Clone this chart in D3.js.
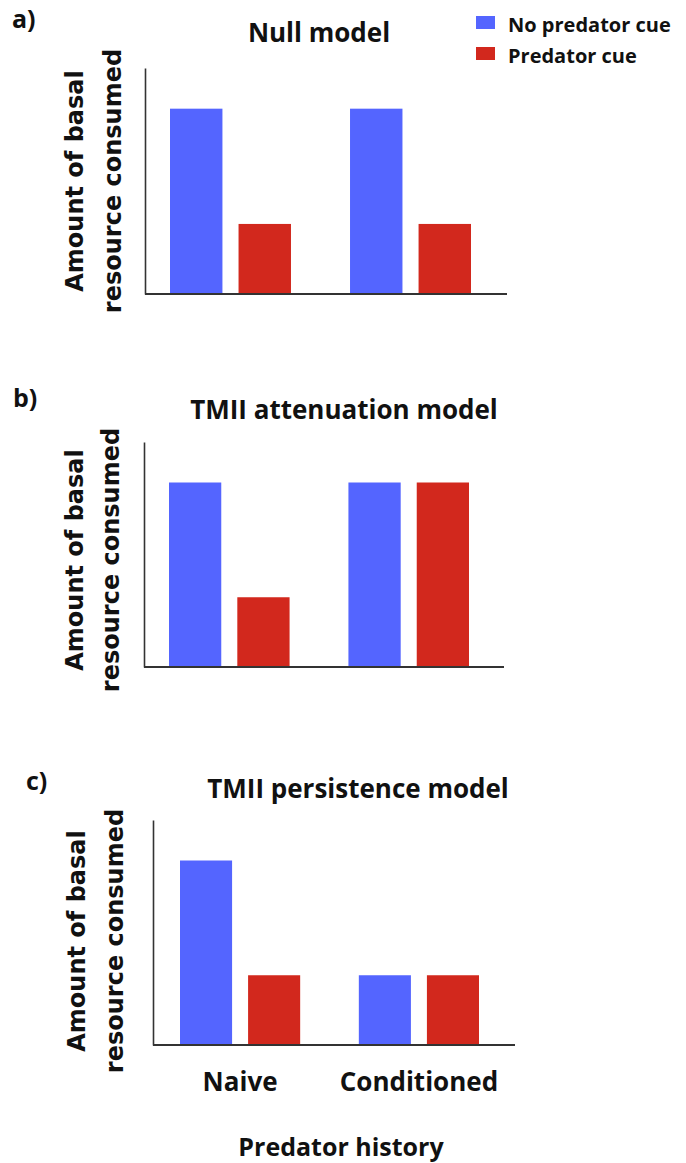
<!DOCTYPE html>
<html>
<head>
<meta charset="utf-8">
<script src="https://cdn.jsdelivr.net/npm/d3@7"></script>
<style>
  body { margin: 0; background: #fff; }
  text { font-family: "Open Sans", sans-serif; font-weight: bold; fill: #111; }
  .ylab { font-family: "DejaVu Sans", sans-serif; }
</style>
</head>
<body>
<div id="chart"></div>
<script>
var svgWidth = 686;
var svgHeight = 1163;

// data
var categories = ["Naive", "Conditioned"];
var seriesNames = ["No predator cue", "Predator cue"];
var seriesColors = ["#5465ff", "#d2281d"];
var panelTitles = ["Null model", "TMII attenuation model", "TMII persistence model"];
var panelLetters = ["a)", "b)", "c)"];
// values per category: [no cue, cue]
var nullValues = [[0.82, 0.31], [0.82, 0.31]];
var attenuationValues = [[0.82, 0.31], [0.82, 0.82]];
var persistenceValues = [[0.82, 0.31], [0.31, 0.31]];

var panelValues = [nullValues, attenuationValues, persistenceValues];

// layout of each panel (plot box, bar offsets, text spots)
var layouts = [
  { left: 145, right: 507, top: 68, bottom: 294, padL: 25, padR: 36,
    titleX: 319, titleY: 42, letterX: 12, letterY: 28, labY: 181, lab1X: 83, lab2X: 121 },
  { left: 144, right: 504, top: 442, bottom: 667, padL: 25, padR: 35,
    titleX: 344, titleY: 419, letterX: 13, letterY: 407, labY: 560, lab1X: 83, lab2X: 119 },
  { left: 153, right: 515, top: 820, bottom: 1045, padL: 27, padR: 36,
    titleX: 358, titleY: 798, letterX: 26, letterY: 790, labY: 941, lab1X: 85, lab2X: 123 }
];

var svg = d3.select("#chart")
  .append("svg")
  .attr("width", svgWidth)
  .attr("height", svgHeight);

panelValues.forEach(function(values, i) {
  var L = layouts[i];

  var x0 = d3.scaleBand()
    .domain(categories)
    .range([L.left + L.padL, L.right - L.padR])
    .paddingInner(0.328);

  var x1 = d3.scaleBand()
    .domain(seriesNames)
    .range([0, x0.bandwidth()])
    .paddingInner(0.235);

  var y = d3.scaleLinear()
    .domain([0, 1])
    .range([L.bottom, L.top]);

  var g = svg.append("g");

  // bars
  var groups = g.selectAll(".grp")
    .data(categories)
    .enter()
    .append("g")
    .attr("transform", function(d) { return "translate(" + x0(d) + ",0)"; });

  groups.selectAll("rect")
    .data(function(d, ci) {
      return seriesNames.map(function(s, si) { return { s: s, v: values[ci][si], c: seriesColors[si] }; });
    })
    .enter()
    .append("rect")
    .attr("x", function(d) { return x1(d.s); })
    .attr("y", function(d) { return y(d.v); })
    .attr("width", x1.bandwidth())
    .attr("height", function(d) { return L.bottom - y(d.v); })
    .attr("fill", function(d) { return d.c; });

  // y axis line
  g.append("g")
    .attr("transform", "translate(" + L.left + ",0)")
    .call(d3.axisLeft(y).ticks(0).tickSizeOuter(0))
    .select(".domain")
    .attr("stroke", "#333")
    .attr("stroke-width", 1.6);

  // x axis line
  g.append("line")
    .attr("x1", L.left)
    .attr("x2", L.right)
    .attr("y1", L.bottom)
    .attr("y2", L.bottom)
    .attr("stroke", "#333")
    .attr("stroke-width", 2);

  // title and panel letter
  g.append("text")
    .attr("x", L.titleX)
    .attr("y", L.titleY)
    .attr("text-anchor", "middle")
    .style("font-size", "26px")
    .text(panelTitles[i]);

  g.append("text")
    .attr("x", L.letterX)
    .attr("y", L.letterY)
    .style("font-size", "25px")
    .text(panelLetters[i]);

  // y label, two lines
  g.append("text")
    .attr("class", "ylab")
    .attr("transform", "translate(" + L.lab1X + "," + L.labY + ") rotate(-90)")
    .attr("text-anchor", "middle")
    .style("font-size", "24px")
    .text("Amount of basal");

  g.append("text")
    .attr("class", "ylab")
    .attr("transform", "translate(" + L.lab2X + "," + L.labY + ") rotate(-90)")
    .attr("text-anchor", "middle")
    .style("font-size", "24px")
    .text("resource consumed");

  // category labels only on last panel
  if (i === panelValues.length - 1) {
    var xAxis = g.append("g")
      .attr("transform", "translate(0," + L.bottom + ")")
      .call(d3.axisBottom(x0).tickSize(0).tickPadding(28));
    xAxis.select(".domain").remove();
    xAxis.selectAll("text")
      .style("font-family", "'Open Sans', sans-serif")
      .style("font-weight", "bold")
      .style("font-size", "26px")
      .attr("fill", "#111");

    g.append("text")
      .attr("x", 341)
      .attr("y", 1156)
      .attr("text-anchor", "middle")
      .style("font-size", "25px")
      .text("Predator history");
  }
});

// legend
var legend = svg.append("g");
seriesNames.forEach(function(name, i) {
  legend.append("rect")
    .attr("x", 476)
    .attr("y", 16 + i * 31)
    .attr("width", 19)
    .attr("height", 13)
    .attr("fill", seriesColors[i]);
  legend.append("text")
    .attr("x", 508)
    .attr("y", 32 + i * 31)
    .style("font-size", "20px")
    .text(name);
});
</script>
</body>
</html>
